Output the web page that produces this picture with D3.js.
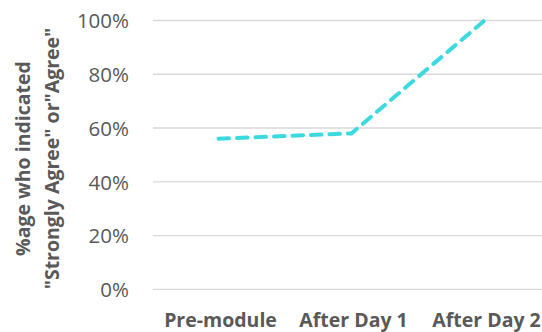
<!DOCTYPE html>
<html><head><meta charset="utf-8">
<script src="https://cdn.jsdelivr.net/npm/d3@7"></script>
<style>html,body{margin:0;padding:0;background:#fff;}svg{display:block;}</style>
</head><body>
<svg id="c" width="542" height="332"></svg>
<script>
const categories = ["Pre-module", "After Day 1", "After Day 2"];
const values = [0.56, 0.58, 1.0];
const yTicks = [0, 0.2, 0.4, 0.6, 0.8, 1.0];
const yTitle = ["%age who indicated", "\"Strongly Agree\" or\"Agree\""];

const svg = d3.select("#c");
const W = 542, H = 332;
const FONT = "'Open Sans', Roboto, sans-serif";
const x = d3.scaleBand().domain(categories).range([152, 551]);
const y = d3.scaleLinear().domain([0, 1]).range([289.3, 20.5]);
const grey = "#595959";

svg.append("g").selectAll("line").data(yTicks).join("line")
  .attr("x1", 153).attr("x2", W)
  .attr("y1", d => y(d)).attr("y2", d => y(d))
  .attr("stroke", "#d9d9d9").attr("stroke-width", 1.3);

const yAxis = d3.axisLeft(y).tickValues(yTicks).tickFormat(d3.format(".0%")).tickSize(0).tickPadding(0);
const ya = svg.append("g").attr("transform", "translate(129,0)").call(yAxis);
ya.select(".domain").remove();
ya.selectAll("text").attr("font-family", FONT).attr("font-size", 20.5)
  .attr("fill", grey).attr("dy", "0.36em");

const xAxis = d3.axisBottom(x).tickSize(0).tickPadding(0);
const xa = svg.append("g").attr("transform", "translate(2,327)").call(xAxis);
xa.select(".domain").remove();
xa.selectAll("text").attr("font-family", FONT).attr("font-size", 19.5)
  .attr("font-weight", "bold").attr("fill", grey).attr("dy", 0).attr("y", 0);

const line = d3.line().x((d, i) => x(categories[i]) + x.bandwidth() / 2).y(d => y(d));
svg.append("path").datum(values).attr("d", line)
  .attr("fill", "none").attr("stroke", "#3CD9DF").attr("stroke-width", 4)
  .attr("stroke-dasharray", "10.5,8").attr("stroke-linecap", "round").attr("stroke-linejoin", "round");

const t = svg.append("text").attr("transform", "translate(0,158.5) rotate(-90)")
  .attr("text-anchor", "middle").attr("font-family", FONT)
  .attr("font-size", 19.5).attr("font-weight", "bold").attr("fill", grey);
t.selectAll("tspan").data(yTitle).join("tspan")
  .attr("x", 0).attr("y", (d, i) => 30 + i * 29).text(d => d);
</script>
</body></html>
